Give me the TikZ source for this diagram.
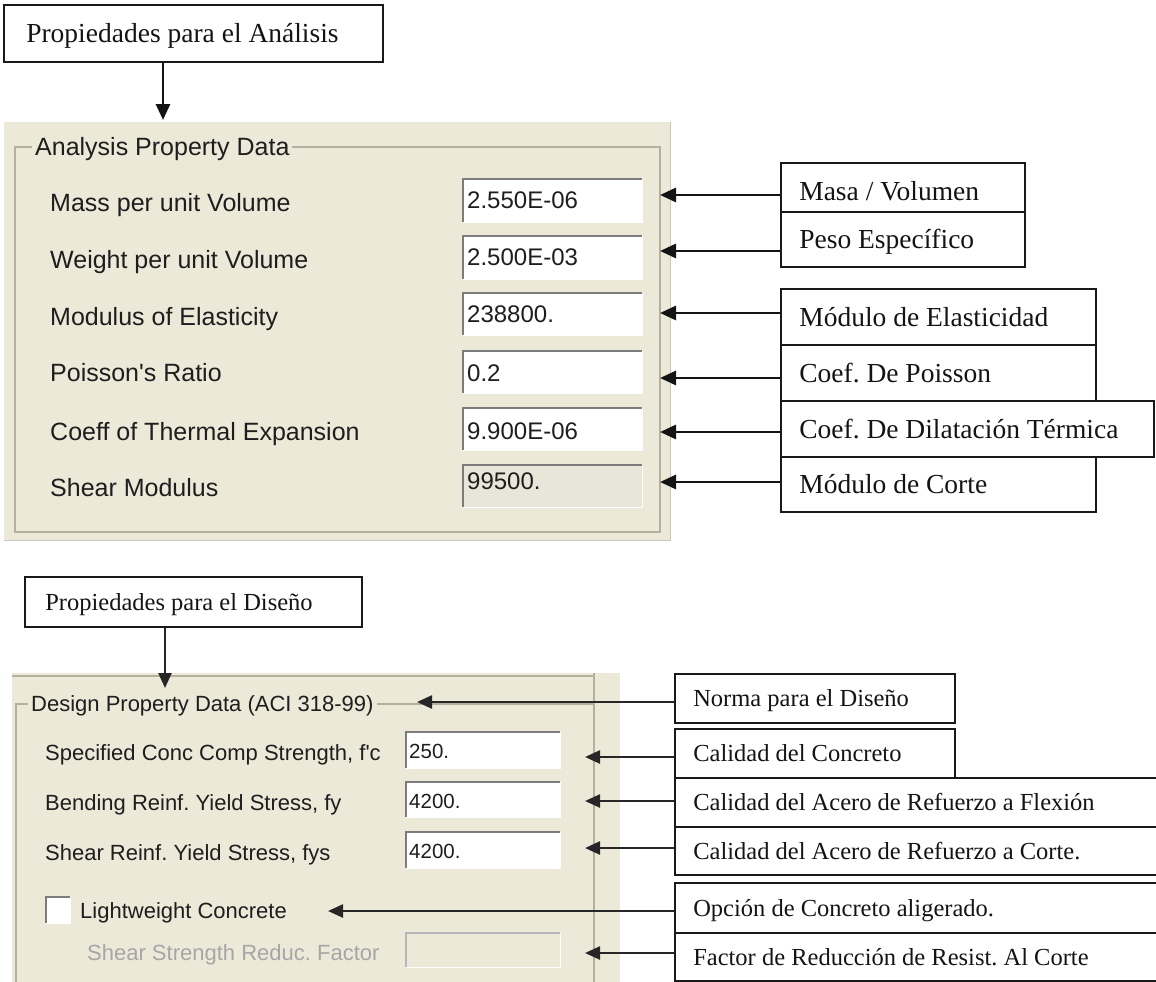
\documentclass[tikz,border=0pt]{standalone}
\usepackage{fontspec}
\setmainfont{Liberation Serif}
\newfontfamily\uisans{Liberation Sans}
\usetikzlibrary{arrows.meta}

\definecolor{panel}{HTML}{ECE9D8}
\definecolor{framegray}{HTML}{B3B0A0}
\definecolor{boxedge}{HTML}{7C7C7C}
\definecolor{uitext}{HTML}{1E1E1E}
\definecolor{disabledtext}{HTML}{A6A6A6}
\definecolor{readonly}{HTML}{E8E6D9}

\tikzset{
  anno/.style={draw=black!90, line width=1.8pt, fill=white, inner sep=0pt},
  annotext/.style={anchor=west, inner sep=0pt, text depth=0pt, text=black!92},
  bigserif/.style={font=\fontsize{27.5}{30}\selectfont, text height=18.2pt},
  smallserif/.style={font=\fontsize{24.5}{27}\selectfont, text height=16.2pt},
  uilabel/.style={anchor=west, inner sep=0pt, text depth=0pt, text=uitext},
  biglabel/.style={uilabel, font=\uisans\fontsize{25}{28}\selectfont, text height=17.9pt},
  smalllabel/.style={uilabel, font=\uisans\fontsize{22}{25}\selectfont, text height=15.75pt},
  bigvalue/.style={uilabel, font=\uisans\fontsize{24}{27}\selectfont, text height=17.2pt},
  smallvalue/.style={uilabel, font=\uisans\fontsize{20.5}{23}\selectfont, text height=14.7pt},
  grouptitle/.style={anchor=west, inner xsep=3pt, inner ysep=0pt, text depth=0pt, fill=panel, text=uitext},
  frameline/.style={draw=framegray, line width=1.2pt},
  arr/.style={-{Triangle[length=16pt,width=14pt]}, line width=2.8pt, draw=black!92},
  arrlow/.style={-{Triangle[length=15pt,width=13pt]}, line width=2.4pt, draw=black!85},
}

% annotation box: name, x1, y1, x2, y2, text style, text
\newcommand{\annobox}[7]{%
  \node[anno, minimum width={#4-#2}, minimum height={#5-#3}] (#1) at ({(#2+#4)/2},{(#3+#5)/2}) {};
  \node[annotext, #6] (#1-t) at ([xshift=19pt]#1.west) {#7};
}
% sunken entry field: name, x1, y1, x2, y2, fill, edge colour
\newcommand{\entryfield}[7]{%
  \fill[#6] (#2,#3) rectangle (#4,#5);
  \draw[white, line width=1pt] (#2,#5) -- (#4,#5) -- (#4,#3);
  \draw[#7, line width=2.4pt] (#2,#5) -- (#2,#3) -- (#4,#3);
  \coordinate (#1) at (#4,{(#3+#5)/2});
}

\begin{document}
\frenchspacing
\begin{tikzpicture}[x=1pt, y=-1pt]
\useasboundingbox (0,0) rectangle (1156,982);

% ---------- analysis panel ----------
\fill[panel] (4,122) rectangle (670,540);
\draw[framegray!70, line width=1pt] (4,540) -- (670,540) -- (670,122);
\draw[frameline] (15,147) rectangle (660,532);
\node[grouptitle, font=\uisans\fontsize{25}{28}\selectfont, text height=17.9pt] (atitle) at (32,147) {Analysis Property Data};

\node[biglabel] (l1) at (50,203) {Mass per unit Volume};
\node[biglabel] (l2) at (50,260) {Weight per unit Volume};
\node[biglabel] (l3) at (50,317) {Modulus of Elasticity};
\node[biglabel] (l4) at (50,373) {Poisson's Ratio};
\node[biglabel] (l5) at (50,432) {Coeff of Thermal Expansion};
\node[biglabel] (l6) at (50,488) {Shear Modulus};

\entryfield{f1}{463}{179}{642}{222}{white}{boxedge}
\entryfield{f2}{463}{236}{642}{279}{white}{boxedge}
\entryfield{f3}{463}{293}{642}{335}{white}{boxedge}
\entryfield{f4}{463}{351}{642}{393}{white}{boxedge}
\entryfield{f5}{463}{408}{642}{450}{white}{boxedge}
\entryfield{f6}{463}{465}{642}{507}{readonly}{boxedge}

\node[bigvalue] (v1) at (467,200) {2.550E-06};
\node[bigvalue] (v2) at (467,257) {2.500E-03};
\node[bigvalue] (v3) at (467,314) {238800.};
\node[bigvalue] (v4) at (467,373) {0.2};
\node[bigvalue] (v5) at (467,431) {9.900E-06};
\node[bigvalue] (v6) at (467,481) {99500.};

% ---------- design panel ----------
\fill[panel] (12,673) rectangle (620,990);
\draw[frameline] (12,676) -- (594,676);
\draw[frameline] (594,673) -- (594,990);
\draw[frameline] (16,990) -- (16,704) -- (594,704);
\node[grouptitle, font=\uisans\fontsize{22}{25}\selectfont, text height=15.75pt] (dtitle) at (28,704) {Design Property Data (ACI 318-99)};

\node[smalllabel] (d1) at (45,753) {Specified Conc Comp Strength, f'c};
\node[smalllabel] (d2) at (45,803) {Bending Reinf. Yield Stress, fy};
\node[smalllabel] (d3) at (45,853) {Shear Reinf. Yield Stress, fys};
\node[smalllabel] (d4) at (80,911) {Lightweight Concrete};
\node[smalllabel, text=disabledtext] (d5) at (87,953) {Shear Strength Reduc. Factor};

\entryfield{g1}{406}{732}{560}{768}{white}{boxedge}
\entryfield{g2}{406}{782}{560}{817}{white}{boxedge}
\entryfield{g3}{406}{832}{560}{868}{white}{boxedge}
\entryfield{g5}{406}{933}{560}{967}{panel}{boxedge!55}
\entryfield{chk}{46}{897}{70}{923}{white}{boxedge}

\node[smallvalue] (w1) at (409,751) {250.};
\node[smallvalue] (w2) at (409,801) {4200.};
\node[smallvalue] (w3) at (409,851) {4200.};

% ---------- annotation boxes ----------
\annobox{analisis}{4}{5}{383}{62}{bigserif, xshift=4pt}{Propiedades para el Análisis}
\annobox{diseno}{25}{577}{362}{627}{smallserif, xshift=2pt}{Propiedades para el Diseño}

\annobox{masa}{781}{163}{1025}{212}{bigserif, yshift=-4pt}{Masa / Volumen}
\annobox{peso}{781}{212}{1025}{267}{bigserif}{Peso Específico}
\annobox{elast}{781}{289}{1096}{345}{bigserif}{Módulo de Elasticidad}
\annobox{poisson}{781}{345}{1096}{401}{bigserif}{Coef. De Poisson}
\annobox{dilat}{781}{401}{1154}{457}{bigserif}{Coef. De Dilatación Térmica}
\annobox{corteA}{781}{457}{1096}{512}{bigserif}{Módulo de Corte}

\annobox{norma}{675}{674}{955}{723}{smallserif}{Norma para el Diseño}
\annobox{concreto}{675}{729}{955}{778}{smallserif}{Calidad del Concreto}
\annobox{flexion}{675}{778}{1170}{827}{smallserif}{Calidad del Acero de Refuerzo a Flexión}
\annobox{corteD}{675}{827}{1170}{875}{smallserif}{Calidad del Acero de Refuerzo a Corte.}
\annobox{opcion}{675}{883}{1170}{933}{smallserif}{Opción de Concreto aligerado.}
\annobox{factor}{675}{933}{1170}{981}{smallserif}{Factor de Reducción de Resist. Al Corte}

% ---------- arrow tips ----------
\coordinate (tTop) at (163,120);
\coordinate (tDes) at (165,688);
\coordinate (t1) at (660,195);
\coordinate (t2) at (660,251);
\coordinate (t3) at (660,313);
\coordinate (t4) at (660,378);
\coordinate (t5) at (660,432);
\coordinate (t6) at (660,482);
\coordinate (u0) at (417,702);
\coordinate (u1) at (585,757);
\coordinate (u2) at (585,801);
\coordinate (u3) at (585,848);
\coordinate (u4) at (328,911);
\coordinate (u5) at (585,953);

% ---------- connectors ----------
\draw[arr] (tTop |- analisis.south) -- (tTop);
\draw[arr] (masa.west |- t1) -- (t1);
\draw[arr] (peso.west |- t2) -- (t2);
\draw[arr] (elast.west |- t3) -- (t3);
\draw[arr] (poisson.west |- t4) -- (t4);
\draw[arr] (dilat.west |- t5) -- (t5);
\draw[arr] (corteA.west |- t6) -- (t6);

\draw[arrlow] (tDes |- diseno.south) -- (tDes);
\draw[arrlow] (norma.west |- u0) -- (u0);
\draw[arrlow] (concreto.west |- u1) -- (u1);
\draw[arrlow] (flexion.west |- u2) -- (u2);
\draw[arrlow] (corteD.west |- u3) -- (u3);
\draw[arrlow] (opcion.west |- u4) -- (u4);
\draw[arrlow] (factor.west |- u5) -- (u5);
\end{tikzpicture}
\end{document}
